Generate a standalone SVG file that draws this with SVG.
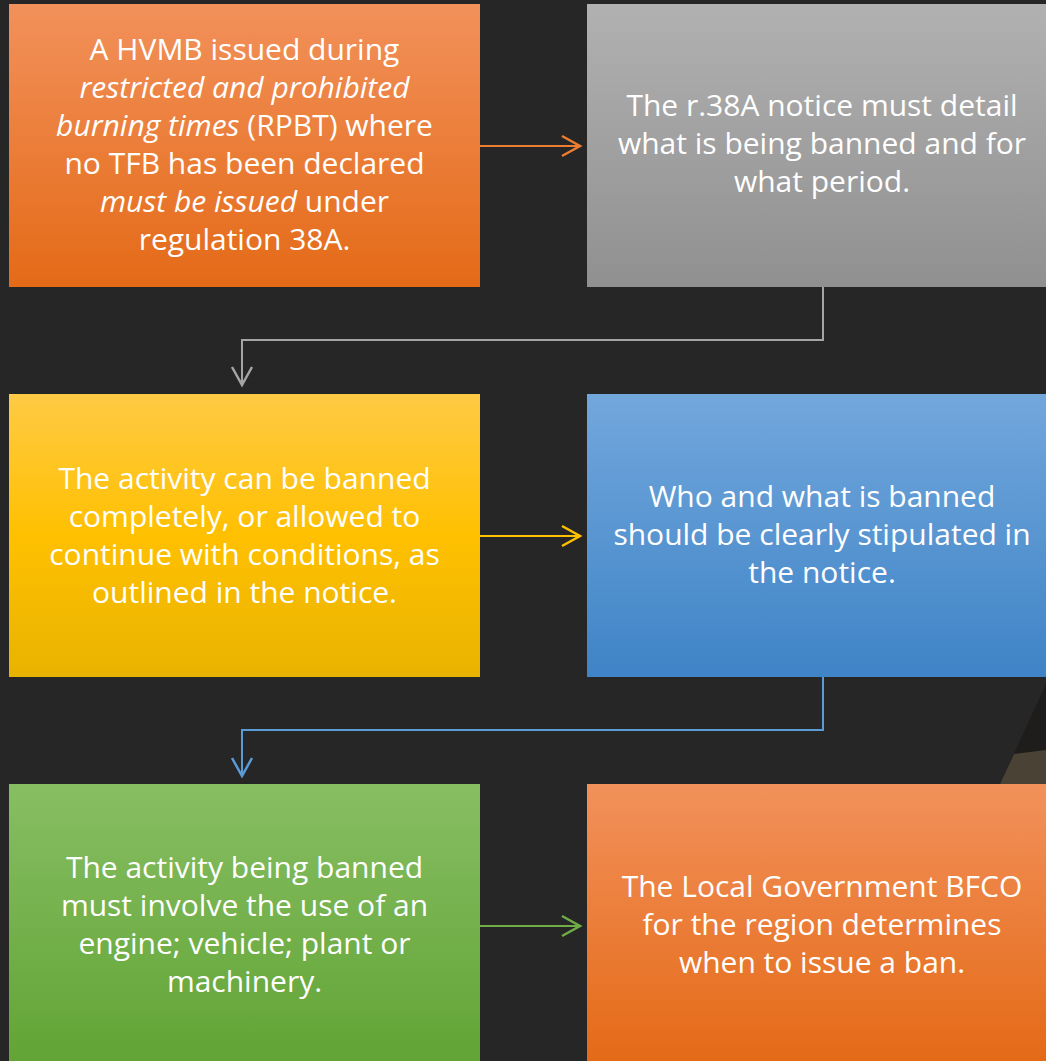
<svg xmlns="http://www.w3.org/2000/svg" width="1046" height="1061" viewBox="0 0 1046 1061">
<style>
.t{font-family:"Open Sans","Noto Sans","Liberation Sans",sans-serif;font-size:30px;fill:#ffffff;text-anchor:middle}
.i{font-style:italic}
.c{fill:none;stroke-width:2}
.m{fill:none;stroke-width:2.5}
</style>
<defs>
<linearGradient id="gO" x1="0" y1="0" x2="0" y2="1"><stop offset="0" stop-color="#f2915b"/><stop offset="1" stop-color="#e46a17"/></linearGradient>
<linearGradient id="gG" x1="0" y1="0" x2="0" y2="1"><stop offset="0" stop-color="#b1b1b1"/><stop offset="1" stop-color="#909090"/></linearGradient>
<linearGradient id="gY" x1="0" y1="0" x2="0" y2="1"><stop offset="0" stop-color="#ffca45"/><stop offset="0.5" stop-color="#ffc000"/><stop offset="1" stop-color="#e8b300"/></linearGradient>
<linearGradient id="gB" x1="0" y1="0" x2="0" y2="1"><stop offset="0" stop-color="#72a7dc"/><stop offset="1" stop-color="#3f84c7"/></linearGradient>
<linearGradient id="gN" x1="0" y1="0" x2="0" y2="1"><stop offset="0" stop-color="#87be63"/><stop offset="1" stop-color="#62a435"/></linearGradient>
<marker id="aO" markerWidth="24" markerHeight="26" refX="20" refY="12" orient="auto" markerUnits="userSpaceOnUse"><path class="m" d="M2,2 L20,12 L2,22" stroke="#ed7d31"/></marker>
<marker id="aG" markerWidth="24" markerHeight="26" refX="20" refY="12" orient="auto" markerUnits="userSpaceOnUse"><path class="m" d="M2,2 L20,12 L2,22" stroke="#a5a5a5"/></marker>
<marker id="aY" markerWidth="24" markerHeight="26" refX="20" refY="12" orient="auto" markerUnits="userSpaceOnUse"><path class="m" d="M2,2 L20,12 L2,22" stroke="#ffc000"/></marker>
<marker id="aB" markerWidth="24" markerHeight="26" refX="20" refY="12" orient="auto" markerUnits="userSpaceOnUse"><path class="m" d="M2,2 L20,12 L2,22" stroke="#5b9bd5"/></marker>
<marker id="aN" markerWidth="24" markerHeight="26" refX="20" refY="12" orient="auto" markerUnits="userSpaceOnUse"><path class="m" d="M2,2 L20,12 L2,22" stroke="#70ad47"/></marker>
</defs>
<rect x="0" y="0" width="1046" height="1061" fill="#262626"/>
<polygon points="1046,684 1000,784 1046,784" fill="#1f1d1b"/>
<polygon points="1014,754 1000,784 1046,784 1046,750" fill="#4a4235"/>

<g id="connectors">
<line class="c" x1="480" y1="146" x2="580" y2="146" stroke="#ed7d31" marker-end="url(#aO)"/>
<polyline class="c" points="823,287 823,340 242,340 242,385" stroke="#a5a5a5" marker-end="url(#aG)"/>
<line class="c" x1="480" y1="536" x2="580" y2="536" stroke="#ffc000" marker-end="url(#aY)"/>
<polyline class="c" points="823,677 823,730 242,730 242,776" stroke="#5b9bd5" marker-end="url(#aB)"/>
<line class="c" x1="480" y1="926" x2="580" y2="926" stroke="#70ad47" marker-end="url(#aN)"/>
</g>

<g id="node1">
<rect x="9" y="4" width="471" height="283" fill="url(#gO)"/>
<text class="t" x="244.5" y="60">A HVMB issued during</text>
<text class="t i" x="244.5" y="98">restricted and prohibited</text>
<text class="t" x="244.5" y="136"><tspan class="i">burning times</tspan> (RPBT) where</text>
<text class="t" x="244.5" y="174">no TFB has been declared</text>
<text class="t" x="244.5" y="212"><tspan class="i">must be issued</tspan> under</text>
<text class="t" x="244.5" y="250">regulation 38A.</text>
</g>

<g id="node2">
<rect x="587" y="4" width="459" height="283" fill="url(#gG)"/>
<text class="t" x="822" y="116">The r.38A notice must detail</text>
<text class="t" x="822" y="154">what is being banned and for</text>
<text class="t" x="822" y="192">what period.</text>
</g>

<g id="node3">
<rect x="9" y="394" width="471" height="283" fill="url(#gY)"/>
<text class="t" x="244.5" y="489">The activity can be banned</text>
<text class="t" x="244.5" y="527">completely, or allowed to</text>
<text class="t" x="244.5" y="565">continue with conditions, as</text>
<text class="t" x="244.5" y="603">outlined in the notice.</text>
</g>

<g id="node4">
<rect x="587" y="394" width="459" height="283" fill="url(#gB)"/>
<text class="t" x="822" y="507">Who and what is banned</text>
<text class="t" x="822" y="545">should be clearly stipulated in</text>
<text class="t" x="822" y="583">the notice.</text>
</g>

<g id="node5">
<rect x="9" y="784" width="471" height="277" fill="url(#gN)"/>
<text class="t" x="244.5" y="878">The activity being banned</text>
<text class="t" x="244.5" y="916">must involve the use of an</text>
<text class="t" x="244.5" y="954">engine; vehicle; plant or</text>
<text class="t" x="244.5" y="992">machinery.</text>
</g>

<g id="node6">
<rect x="587" y="784" width="459" height="277" fill="url(#gO)"/>
<text class="t" x="822" y="897">The Local Government BFCO</text>
<text class="t" x="822" y="935">for the region determines</text>
<text class="t" x="822" y="973">when to issue a ban.</text>
</g>
</svg>
